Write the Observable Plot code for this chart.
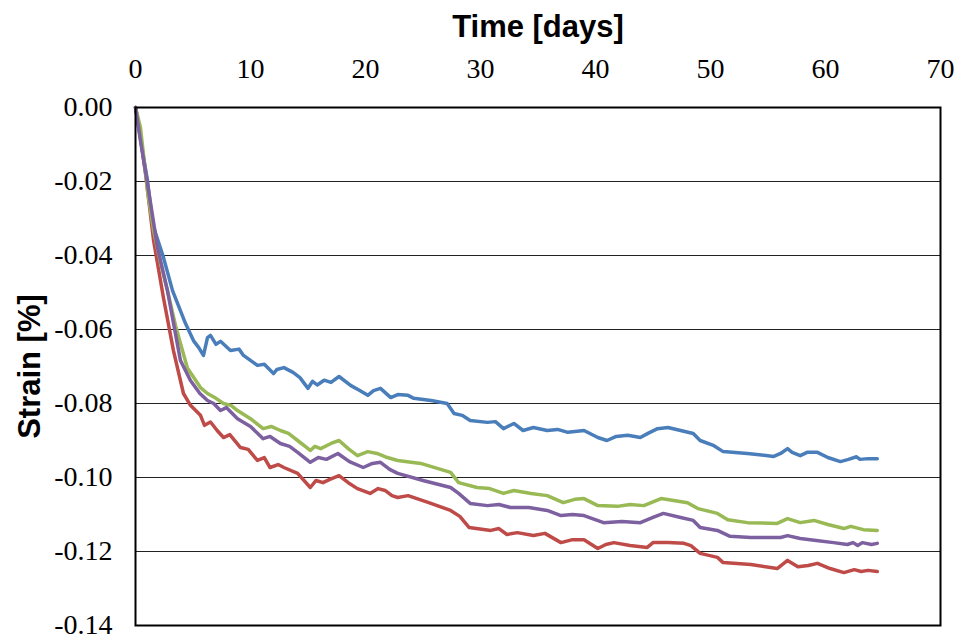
<!DOCTYPE html>
<html>
<head>
<meta charset="utf-8">
<script src="https://cdn.jsdelivr.net/npm/d3@7"></script>
<script src="https://cdn.jsdelivr.net/npm/@observablehq/plot@0.6"></script>
<style>
  html, body { margin: 0; padding: 0; background: #fff; }
</style>
</head>
<body>
<div id="chart"></div>
<script>
// Creep strain readings: [time in days, strain in %]
const blueSeries = [
  [0,0],[0.70,-0.0135],[1.04,-0.0197],[1.48,-0.0314],[2.43,-0.0405],[3.22,-0.0495],
  [4.35,-0.0584],[5.04,-0.0630],[5.5,-0.0649],[5.91,-0.0670],[6.26,-0.0622],[6.52,-0.0616],
  [7.0,-0.0640],[7.39,-0.0632],[8.26,-0.0657],[9.0,-0.0653],[9.39,-0.0670],[10.6,-0.0697],
  [11.2,-0.0694],[12.0,-0.0719],[12.3,-0.0708],[12.9,-0.0703],[13.7,-0.0716],[14.3,-0.0730],
  [15.0,-0.0759],[15.4,-0.0740],[15.8,-0.0750],[16.4,-0.0737],[17.0,-0.0743],[17.7,-0.0727],
  [18.7,-0.0751],[19.5,-0.0765],[20.2,-0.0778],[20.7,-0.0765],[21.3,-0.0759],[22.2,-0.0784],
  [22.8,-0.0776],[23.7,-0.0778],[24.2,-0.0786],[25.7,-0.0792],[27.1,-0.0800],
  [27.7,-0.0827],[28.4,-0.0832],[29.1,-0.0846],[30.6,-0.0851],[31.3,-0.0849],[32.0,-0.0868],
  [32.9,-0.0854],[33.7,-0.0873],[34.6,-0.0865],[35.8,-0.0873],[36.7,-0.0870],[37.6,-0.0878],
  [39.0,-0.0873],[40.2,-0.0892],[41.0,-0.0900],[41.8,-0.0889],[42.8,-0.0886],[43.9,-0.0892],
  [44.6,-0.0880],[45.4,-0.0868],[46.3,-0.0865],[47.4,-0.0873],[48.5,-0.0881],[49.1,-0.0900],
  [50.3,-0.0914],[51.1,-0.0930],[53.2,-0.0935],[55.5,-0.0943],[56.1,-0.0935],[56.7,-0.0922],
  [57.1,-0.0932],[57.8,-0.0941],[58.4,-0.0932],[59.3,-0.0932],[60.2,-0.0946],[61.3,-0.0957],
  [62.0,-0.0951],[62.7,-0.0944],[63.0,-0.0951],[63.7,-0.0949],[64.5,-0.0949]
];
const redSeries = [
  [0,0],[0.26,-0.0043],[0.87,-0.0178],[1.57,-0.0359],[2.43,-0.0514],[3.30,-0.0657],
  [4.17,-0.0773],[4.78,-0.0805],[5.65,-0.0832],[6.0,-0.0859],[6.52,-0.0850],[7.1,-0.0873],
  [7.65,-0.0892],[8.2,-0.0884],[9.13,-0.0919],[9.8,-0.0924],[10.6,-0.0954],[11.2,-0.0946],
  [11.7,-0.0973],[12.4,-0.0965],[12.9,-0.0973],[14.1,-0.0989],[15.2,-0.1027],[15.7,-0.1008],
  [16.3,-0.1014],[16.9,-0.1005],[17.7,-0.0995],[18.5,-0.1014],[19.3,-0.1030],[20.4,-0.1043],
  [21.1,-0.1030],[21.7,-0.1035],[22.3,-0.1049],[22.8,-0.1054],[23.7,-0.1049],[25.5,-0.1068],
  [27.4,-0.1089],[28.2,-0.1105],[29.0,-0.1135],[30.9,-0.1143],[31.6,-0.1138],[32.3,-0.1154],
  [33.2,-0.1149],[34.6,-0.1157],[35.6,-0.1151],[37.0,-0.1176],[38.0,-0.1168],[39.0,-0.1168],
  [40.2,-0.1192],[40.9,-0.1181],[41.6,-0.1176],[43.0,-0.1184],[44.5,-0.1189],[45.0,-0.1176],
  [46.3,-0.1176],[47.7,-0.1178],[48.3,-0.1184],[49.1,-0.1205],[50.6,-0.1216],[51.1,-0.1230],
  [53.5,-0.1235],[55.8,-0.1246],[56.7,-0.1224],[57.6,-0.1241],[58.5,-0.1238],[59.3,-0.1232],
  [60.4,-0.1246],[61.6,-0.1257],[62.5,-0.1249],[63.1,-0.1254],[63.7,-0.1251],[64.5,-0.1254]
];
const greenSeries = [
  [0,0],[0.43,-0.0054],[1.04,-0.0224],[1.57,-0.0332],[2.17,-0.0419],[2.78,-0.0495],
  [3.48,-0.0589],[3.91,-0.0638],[4.52,-0.0705],[5.65,-0.0757],[6.26,-0.0773],[7.0,-0.0786],
  [7.65,-0.0800],[8.3,-0.0805],[8.87,-0.0819],[10.0,-0.0841],[11.1,-0.0868],[11.8,-0.0862],
  [12.6,-0.0873],[13.3,-0.0881],[14.1,-0.0900],[15.2,-0.0927],[15.6,-0.0916],[16.1,-0.0922],
  [17.0,-0.0908],[17.7,-0.0900],[18.5,-0.0922],[19.3,-0.0941],[20.2,-0.0930],[21.0,-0.0935],
  [21.9,-0.0946],[22.8,-0.0954],[24.8,-0.0962],[27.4,-0.0986],[28.1,-0.1014],[29.7,-0.1027],
  [30.8,-0.1030],[32.0,-0.1043],[32.9,-0.1035],[34.4,-0.1043],[35.8,-0.1049],[37.2,-0.1068],
  [38.2,-0.1059],[39.0,-0.1057],[40.2,-0.1076],[41.9,-0.1078],[43.0,-0.1073],[44.2,-0.1076],
  [45.7,-0.1057],[46.8,-0.1062],[48.0,-0.1068],[48.9,-0.1084],[50.6,-0.1097],[51.5,-0.1114],
  [53.2,-0.1122],[55.8,-0.1124],[56.7,-0.1111],[57.8,-0.1122],[59.0,-0.1116],[60.2,-0.1127],
  [61.6,-0.1138],[62.2,-0.1132],[63.3,-0.1141],[64.5,-0.1143]
];
const purpleSeries = [
  [0,0],[0.43,-0.0089],[1.04,-0.0205],[1.91,-0.0378],[2.78,-0.0495],[3.91,-0.0684],
  [4.78,-0.0738],[5.6,-0.0773],[6.26,-0.0792],[6.8,-0.0800],[7.39,-0.0819],[7.9,-0.0811],
  [8.87,-0.0841],[10.0,-0.0862],[11.1,-0.0895],[11.7,-0.0889],[12.6,-0.0908],[13.4,-0.0916],
  [14.1,-0.0932],[15.2,-0.0959],[15.9,-0.0946],[16.6,-0.0951],[17.6,-0.0935],[18.6,-0.0957],
  [19.8,-0.0973],[20.6,-0.0962],[21.3,-0.0959],[22.1,-0.0978],[22.8,-0.0989],[25.0,-0.1008],
  [27.4,-0.1027],[28.1,-0.1043],[29.1,-0.1070],[30.6,-0.1076],[31.6,-0.1073],[32.6,-0.1081],
  [34.2,-0.1081],[35.8,-0.1089],[37.0,-0.1103],[38.0,-0.1100],[39.0,-0.1103],[40.7,-0.1122],
  [42.3,-0.1119],[43.9,-0.1122],[45.0,-0.1108],[45.9,-0.1097],[47.4,-0.1108],[48.5,-0.1116],
  [49.1,-0.1135],[50.6,-0.1143],[51.7,-0.1159],[53.5,-0.1162],[56.1,-0.1162],[56.7,-0.1157],
  [57.8,-0.1165],[59.2,-0.1170],[60.7,-0.1176],[61.9,-0.1181],[62.4,-0.1176],[62.8,-0.1184],
  [63.2,-0.1176],[64.0,-0.1181],[64.5,-0.1178]
];

const seriesNames = ["S1", "S2", "S3", "S4"];
const seriesColors = ["#4A7EBB", "#BE4B48", "#98B954", "#7D60A0"];
const xTicks = [0, 10, 20, 30, 40, 50, 60, 70];
const yTicks = [0, -0.02, -0.04, -0.06, -0.08, -0.10, -0.12, -0.14];
const xTitle = "Time [days]";
const yTitle = "Strain [%]";

const rows = [blueSeries, redSeries, greenSeries, purpleSeries].flatMap((s, i) =>
  s.map(([t, e]) => ({series: seriesNames[i], t, e}))
);

const serif = "Liberation Serif";
const sans = "Liberation Sans";

const chart = Plot.plot({
  width: 961,
  height: 642,
  marginLeft: 135,
  marginRight: 21,
  marginTop: 107,
  marginBottom: 17,
  x: {domain: [0, 70]},
  y: {domain: [-0.14, 0]},
  color: {domain: seriesNames, range: seriesColors},
  marks: [
    Plot.gridY(yTicks.slice(1, -1), {stroke: "#222", strokeOpacity: 1, strokeWidth: 1}),
    Plot.axisX({anchor: "top", ticks: xTicks, tickSize: 0, tickPadding: 30, label: null,
      fontSize: 28, fontFamily: serif, fill: "#000"}),
    Plot.axisY({anchor: "left", ticks: yTicks, tickSize: 0, tickPadding: 23, label: null,
      fontSize: 28, fontFamily: serif, fill: "#000", tickFormat: d => d.toFixed(2)}),
    Plot.line(rows, {x: "t", y: "e", z: "series", stroke: "series", strokeWidth: 3.5,
      strokeLinejoin: "round", curve: "linear"}),
    Plot.frame({stroke: "#000", strokeWidth: 2}),
    Plot.text([xTitle], {frameAnchor: "top", lineAnchor: "middle", dy: -80, fontSize: 31,
      fontWeight: "bold", fontFamily: sans, fill: "#000"}),
    Plot.text([yTitle], {frameAnchor: "left", textAnchor: "middle", lineAnchor: "middle", dx: -105,
      rotate: -90, fontSize: 31, fontWeight: "bold", fontFamily: sans, fill: "#000"})
  ]
});
document.getElementById("chart").appendChild(chart);
</script>
</body>
</html>
